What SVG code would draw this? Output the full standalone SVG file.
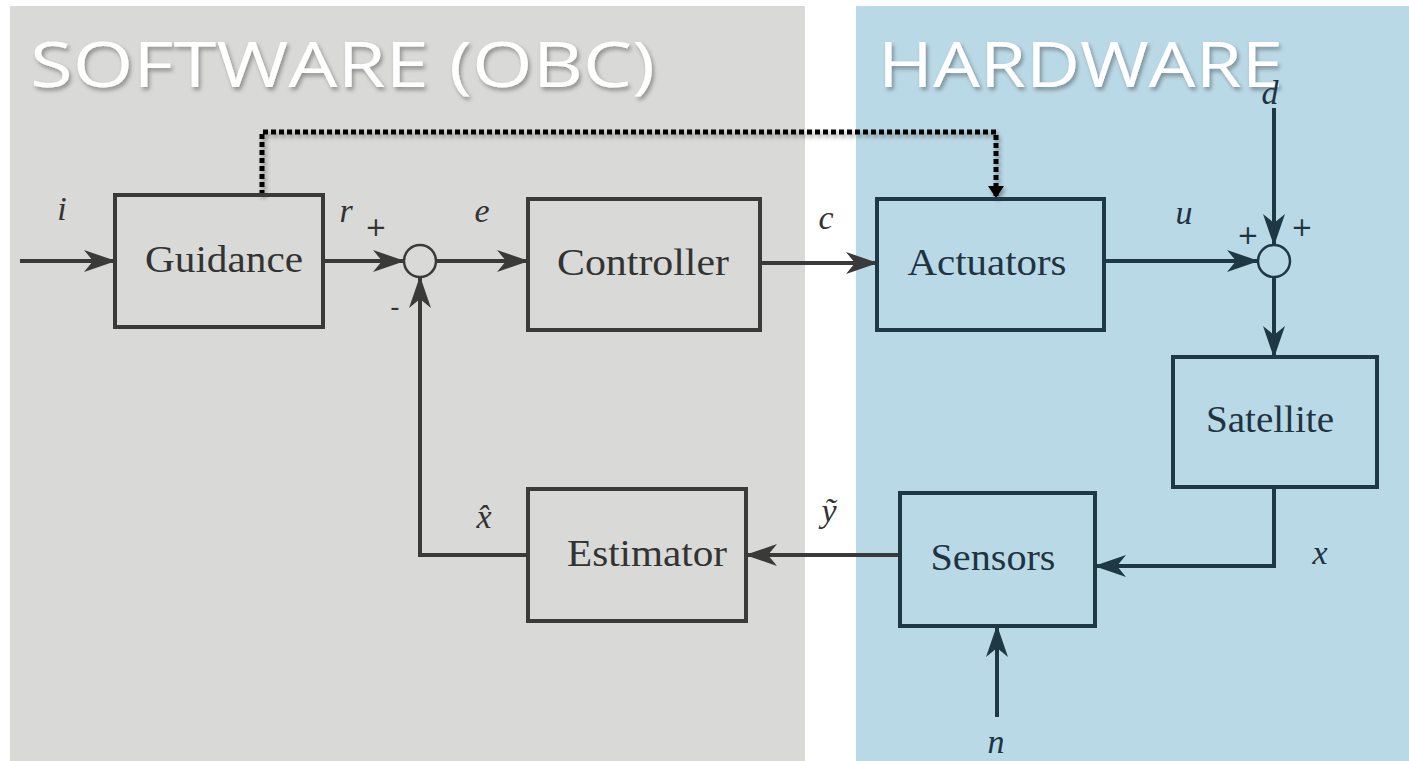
<svg xmlns="http://www.w3.org/2000/svg" width="1409" height="761" viewBox="0 0 1409 761">
<defs>
<style>
.title{font-family:"Open Sans","Noto Sans",sans-serif;font-size:62px;fill:#ffffff;filter:url(#sh)}
.lbl{font-family:"Liberation Serif",serif;font-size:37px;fill:#333333;text-anchor:middle}
.lblb{font-family:"Liberation Serif",serif;font-size:37px;fill:#1f3440;text-anchor:middle}
.var{font-family:"Liberation Serif",serif;font-style:italic;font-size:34px;fill:#333333;text-anchor:middle}
.varb{font-family:"Liberation Serif",serif;font-style:italic;font-size:34px;fill:#1f3440;text-anchor:middle}
.sign{font-family:"DejaVu Sans",sans-serif;font-size:26px;fill:#333333;text-anchor:middle}
.signb{font-family:"DejaVu Sans",sans-serif;font-size:26px;fill:#1f3440;text-anchor:middle}
.boxg{fill:none;stroke:#3a3a3a;stroke-width:4}
.boxb{fill:none;stroke:#1e3846;stroke-width:4}
.lg{fill:none;stroke:#3a3a3a;stroke-width:4}
.lb{fill:none;stroke:#1e3846;stroke-width:4}
</style>
<filter id="sh" x="-5%" y="-20%" width="110%" height="140%">
<feDropShadow dx="2" dy="3" stdDeviation="2" flood-color="#000000" flood-opacity="0.35"/>
</filter>
<marker id="ag" viewBox="0 0 32 22" refX="31" refY="11" markerWidth="32" markerHeight="22" markerUnits="userSpaceOnUse" orient="auto">
<path d="M0,0 L32,11 L0,22 L9,11 Z" fill="#3a3a3a"/>
</marker>
<marker id="ab" viewBox="0 0 32 22" refX="31" refY="11" markerWidth="32" markerHeight="22" markerUnits="userSpaceOnUse" orient="auto">
<path d="M0,0 L32,11 L0,22 L9,11 Z" fill="#1e3846"/>
</marker>
<marker id="ak" viewBox="0 0 12 16" refX="11" refY="8" markerWidth="12" markerHeight="16" markerUnits="userSpaceOnUse" orient="auto">
<path d="M0,0 L12,8 L0,16 Z" fill="#000000"/>
</marker>
</defs>
<rect width="1409" height="761" fill="#ffffff"/>
<g id="panel-software">
<rect x="10" y="6" width="795" height="755" fill="#d9d9d7"/>
<text class="title" x="30" y="87" textLength="625" lengthAdjust="spacingAndGlyphs">SOFTWARE (OBC)</text>
</g>
<g id="panel-hardware">
<rect x="856" y="6" width="553" height="755" fill="#bad9e6"/>
<text class="title" x="878" y="87" textLength="405" lengthAdjust="spacingAndGlyphs">HARDWARE</text>
</g>
<g id="connectors">
<path class="lg" d="M20,261 L115,261" marker-end="url(#ag)"/>
<path class="lg" d="M323,261 L404,261" marker-end="url(#ag)"/>
<path class="lg" d="M436,261 L528,261" marker-end="url(#ag)"/>
<path class="lg" d="M760,263 L877,263" marker-end="url(#ag)"/>
<path class="lb" d="M1104,261 L1258,261" marker-end="url(#ab)"/>
<path class="lb" d="M1274,108 L1274,245" marker-end="url(#ab)"/>
<path class="lb" d="M1274,277 L1274,357" marker-end="url(#ab)"/>
<path class="lb" d="M1274,487 L1274,566 L1095,566" marker-end="url(#ab)"/>
<path class="lb" d="M997,717 L997,626" marker-end="url(#ab)"/>
<path class="lg" d="M900,555 L746,555" marker-end="url(#ag)"/>
<path class="lg" d="M528,555 L420,555 L420,277" marker-end="url(#ag)"/>
<path d="M262,195 L262,132 L996,132 L996,197" fill="none" stroke="#000000" stroke-width="5" stroke-dasharray="5,3" marker-end="url(#ak)" filter="url(#sh)"/>
</g>
<g id="sum1">
<circle cx="420" cy="261" r="16" fill="none" stroke="#3a3a3a" stroke-width="2.5"/>
</g>
<g id="sum2">
<circle cx="1274" cy="261" r="16" fill="none" stroke="#1e3846" stroke-width="2.5"/>
</g>
<g id="guidance">
<rect class="boxg" x="115" y="195" width="208" height="132"/>
<text class="lbl" x="224" y="272" textLength="158" lengthAdjust="spacingAndGlyphs">Guidance</text>
</g>
<g id="controller">
<rect class="boxg" x="528" y="199" width="232" height="131"/>
<text class="lbl" x="643" y="275" textLength="172" lengthAdjust="spacingAndGlyphs">Controller</text>
</g>
<g id="actuators">
<rect class="boxb" x="877" y="199" width="227" height="131"/>
<text class="lblb" x="987" y="275" textLength="159" lengthAdjust="spacingAndGlyphs">Actuators</text>
</g>
<g id="satellite">
<rect class="boxb" x="1173" y="357" width="204" height="130"/>
<text class="lblb" x="1270" y="432" textLength="128" lengthAdjust="spacingAndGlyphs">Satellite</text>
</g>
<g id="sensors">
<rect class="boxb" x="900" y="493" width="195" height="133"/>
<text class="lblb" x="993" y="570" textLength="125" lengthAdjust="spacingAndGlyphs">Sensors</text>
</g>
<g id="estimator">
<rect class="boxg" x="528" y="489" width="218" height="132"/>
<text class="lbl" x="647" y="566" textLength="160" lengthAdjust="spacingAndGlyphs">Estimator</text>
</g>
<g id="labels">
<text class="var" x="62" y="220">i</text>
<text class="var" x="346" y="222">r</text>
<text class="sign" x="376" y="236">+</text>
<text class="var" x="482" y="222">e</text>
<text class="sign" x="395" y="316">-</text>
<text class="var" x="826" y="229">c</text>
<text class="varb" x="1184" y="224">u</text>
<text class="signb" x="1248" y="244">+</text>
<text class="signb" x="1302" y="236">+</text>
<text class="varb" x="1270" y="104">d</text>
<text class="var" x="484" y="528">x̂</text>
<text class="var" x="829" y="522">ỹ</text>
<text class="varb" x="1320" y="564">x</text>
<text class="varb" x="996" y="753">n</text>
</g>
</svg>
